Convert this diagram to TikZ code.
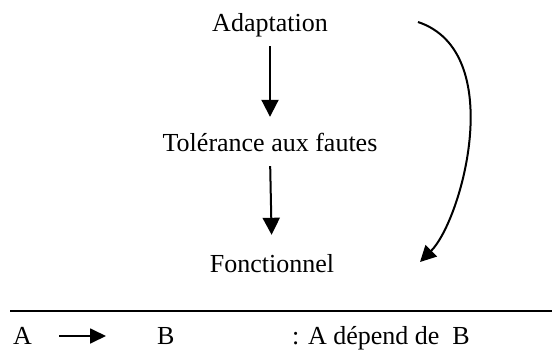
\documentclass[tikz,border=0pt]{standalone}
\usepackage{fontspec}
\setmainfont{Liberation Serif}
\usetikzlibrary{arrows.meta}
\begin{document}
\begin{tikzpicture}[x=1pt,y=-1pt,
  lbl/.style={anchor=base,inner sep=0pt,text height=18pt,text depth=6pt,
    font=\fontsize{26}{31}\selectfont},
  deparrow/.style={line width=2pt,-{Triangle[length=17pt,width=17pt]}},
  legarrow/.style={line width=1.8pt,-{Triangle[length=16pt,width=15pt]}}]
\useasboundingbox (0,0) rectangle (552,349);
\node[lbl] (ad) at (270,31) {Adaptation};
\node[lbl] (tol) at (270,151) {Tolérance aux fautes};
\node[lbl] (fon) at (272,272) {Fonctionnel};
\draw[deparrow,shorten <=9pt,shorten >=16pt] (ad.south) -- (tol.north);
\draw[deparrow,shorten <=9pt,shorten >=19pt] (tol.south) -- (fon.north);
\coordinate (cs) at (418,22);
\coordinate (ce) at (420,262);
\draw[line width=2pt,-{Triangle[length=16pt,width=16pt]}] (cs) .. controls (508,52) and (462,220) .. (ce);
\coordinate (rl) at (10,311);
\coordinate (rr) at (552,311);
\draw[line width=1.6pt] (rl) -- (rr);
\node[lbl,anchor=base west] (la) at (13,344) {A};
\node[lbl,anchor=base west] (lb) at (157,344) {B};
\node[lbl,anchor=base west] (lt) at (292,344) {: A dépend de~~B};
\draw[legarrow,shorten <=27pt,shorten >=51pt] ([yshift=8pt]la.base east) -- ([yshift=8pt]lb.base west);
\end{tikzpicture}
\end{document}
